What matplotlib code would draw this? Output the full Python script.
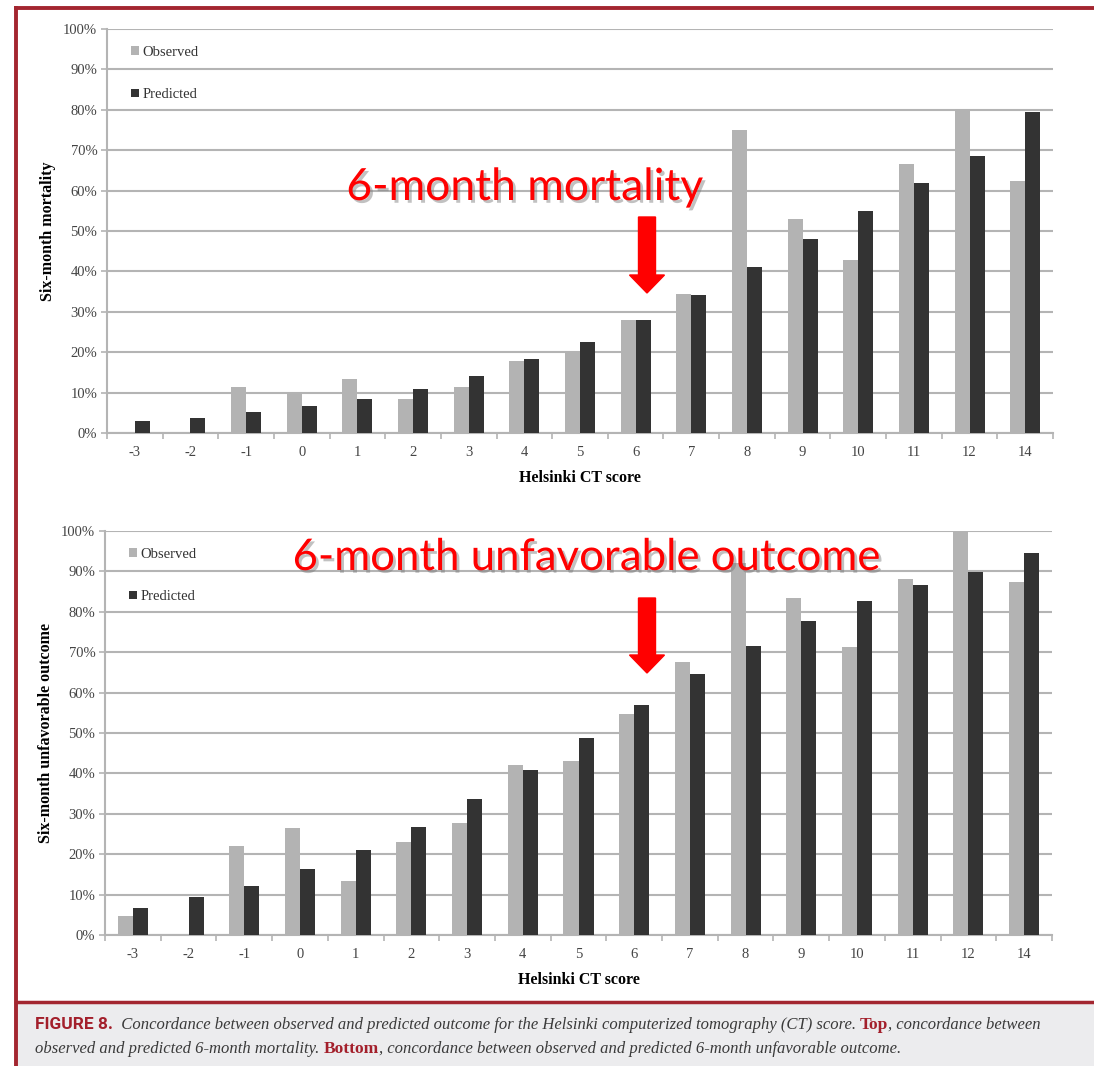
import numpy as np
import matplotlib
matplotlib.use('Agg')
import matplotlib.pyplot as plt
import matplotlib.patheffects as pe
from matplotlib.patches import FancyArrow, Rectangle
from matplotlib.lines import Line2D

# Helsinki CT score categories (no 13 in the source figure)
scores = ['-3', '-2', '-1', '0', '1', '2', '3', '4', '5', '6', '7', '8', '9', '10', '11', '12', '14']

# six-month mortality (%)
mort_observed = [0, 0, 11.3, 10.1, 13.4, 8.4, 11.3, 17.7, 20.4, 27.9, 34.4, 74.9, 53.0, 42.7, 66.7, 80.2, 62.3]
mort_predicted = [2.9, 3.7, 5.1, 6.6, 8.4, 11.0, 14.0, 18.2, 22.5, 27.9, 34.1, 41.0, 47.9, 55.0, 62.0, 68.5, 79.4]

# six-month unfavorable outcome (%)
unfav_observed = [4.7, 0, 22.0, 26.4, 13.4, 23.1, 27.8, 42.2, 43.1, 54.6, 67.6, 92.0, 83.3, 71.4, 88.0, 100.0, 87.3]
unfav_predicted = [6.8, 9.5, 12.2, 16.3, 21.0, 26.8, 33.7, 40.8, 48.8, 56.9, 64.5, 71.5, 77.6, 82.7, 86.6, 89.9, 94.6]

W, H = 1094, 1066
fig = plt.figure(figsize=(W / 100, H / 100), dpi=100)

OBS_COL = '#b3b3b3'
PRED_COL = '#333333'
GRID_COL = '#b4b4b4'
SERIF = 'Liberation Serif'
RED = '#ff0000'
FRAME = '#a32630'


def px_axes(x0, y0, x1, y1):
    # pixel box (top-left origin) -> figure fraction
    return fig.add_axes([x0 / W, 1 - y1 / H, (x1 - x0) / W, (y1 - y0) / H])


def draw_panel(ax, observed, predicted, ylabel):
    x = np.arange(len(scores))
    bw = 0.27
    ax.bar(x - bw / 2, np.array(observed) / 100, bw, color=OBS_COL, label='Observed', zorder=3)
    ax.bar(x + bw / 2, np.array(predicted) / 100, bw, color=PRED_COL, label='Predicted', zorder=3)
    ax.set_xlim(-0.5, len(scores) - 0.5)
    ax.set_ylim(0, 1.0)
    ax.set_yticks(np.arange(0, 1.01, 0.1))
    ax.set_yticklabels(['%d%%' % v for v in range(0, 101, 10)])
    ax.set_xticks(x)
    ax.set_xticklabels(scores)
    ax.set_xticks(np.arange(-0.5, len(scores), 1.0), minor=True)
    ax.tick_params(axis='x', which='major', length=0, pad=9)
    ax.tick_params(axis='x', which='minor', length=4, color=GRID_COL, width=1.2)
    ax.tick_params(axis='y', length=4, color=GRID_COL, width=1.2, pad=3)
    for lab in ax.get_xticklabels() + ax.get_yticklabels():
        lab.set_fontfamily(SERIF)
        lab.set_fontsize(10.5)
        lab.set_color('#444444')
    ax.grid(axis='y', color=GRID_COL, linewidth=1.5, zorder=0)
    ax.set_axisbelow(True)
    for s in ['top', 'right']:
        ax.spines[s].set_visible(False)
    for s in ['left', 'bottom']:
        ax.spines[s].set_color(GRID_COL)
        ax.spines[s].set_linewidth(1.5)
    ax.set_xlabel('Helsinki CT score', fontfamily=SERIF, fontweight='bold', fontsize=11.5, labelpad=8)
    ax.set_ylabel(ylabel, fontfamily=SERIF, fontweight='bold', fontsize=11.5, labelpad=5)
    leg = ax.legend(loc='upper left', bbox_to_anchor=(0.025, 0.958), frameon=False,
                    prop={'family': SERIF, 'size': 10.5}, handlelength=0.55, handleheight=0.55,
                    handletextpad=0.25, labelspacing=2.0, borderpad=0, borderaxespad=0)
    for t in leg.get_texts():
        t.set_color('#333333')


ax1 = px_axes(107, 29, 1053, 433)
draw_panel(ax1, mort_observed, mort_predicted, 'Six-month mortality')
ax2 = px_axes(105, 531, 1052, 935)
draw_panel(ax2, unfav_observed, unfav_predicted, 'Six-month unfavorable outcome')

# red callouts with soft shadow
shadow = [pe.SimplePatchShadow(offset=(2, -2), shadow_rgbFace='#777777', alpha=0.45), pe.Normal()]
fig.text(525 / W, 1 - 200 / H, '6-month mortality', fontfamily='Lato', fontsize=32,
         color=RED, ha='center', va='baseline', path_effects=shadow)
fig.text(587 / W, 1 - 570 / H, '6-month unfavorable outcome', fontfamily='Lato', fontsize=31.5,
         color=RED, ha='center', va='baseline', path_effects=shadow)

inch = fig.dpi_scale_trans
for top, tip in [(217, 293), (598, 673)]:
    fig.patches.append(FancyArrow(6.47, (H - top) / 100, 0, -(tip - top) / 100, width=0.17,
                                  head_width=0.35, head_length=0.18, length_includes_head=True,
                                  color=RED, transform=inch))

# page frame and caption box
fig.patches.append(Rectangle((17 / W, 0), 1, (H - 1003) / H, transform=fig.transFigure,
                             facecolor='#ececee', edgecolor='none', zorder=0))
fig.lines.append(Line2D([16 / W, 1], [1 - 1002 / H] * 2, color=FRAME, linewidth=2.5, transform=fig.transFigure))
fig.lines.append(Line2D([16 / W, 1], [1 - 8 / H] * 2, color=FRAME, linewidth=2.8, transform=fig.transFigure))
fig.lines.append(Line2D([16 / W, 16 / W], [0, 1 - 8 / H], color=FRAME, linewidth=2.8, transform=fig.transFigure))

# caption, written as runs of differently styled text
CAP_RED = '#a31f2b'
cap_it = dict(fontfamily=SERIF, fontstyle='italic', fontsize=12, color='#3a3a3a')
cap_bold = dict(fontfamily=SERIF, fontweight='bold', fontsize=12.5, color=CAP_RED)
lines = [
    [('FIGURE 8.', dict(fontfamily='Roboto', fontweight='bold', fontsize=12.5, color=CAP_RED)),
     ('  Concordance between observed and predicted outcome for the Helsinki computerized tomography (CT) score. ', cap_it),
     ('Top', cap_bold),
     (', concordance between', cap_it)],
    [('observed and predicted 6-month mortality. ', cap_it),
     ('Bottom', cap_bold),
     (', concordance between observed and predicted 6-month unfavorable outcome.', cap_it)],
]
renderer = fig.canvas.get_renderer()
for base_y, runs in zip([1029, 1053], lines):
    xpos = 35
    for txt, style in runs:
        t = fig.text(xpos / W, 1 - base_y / H, txt, va='baseline', ha='left', **style)
        xpos += t.get_window_extent(renderer).width

fig.savefig('out.png', dpi=100)
